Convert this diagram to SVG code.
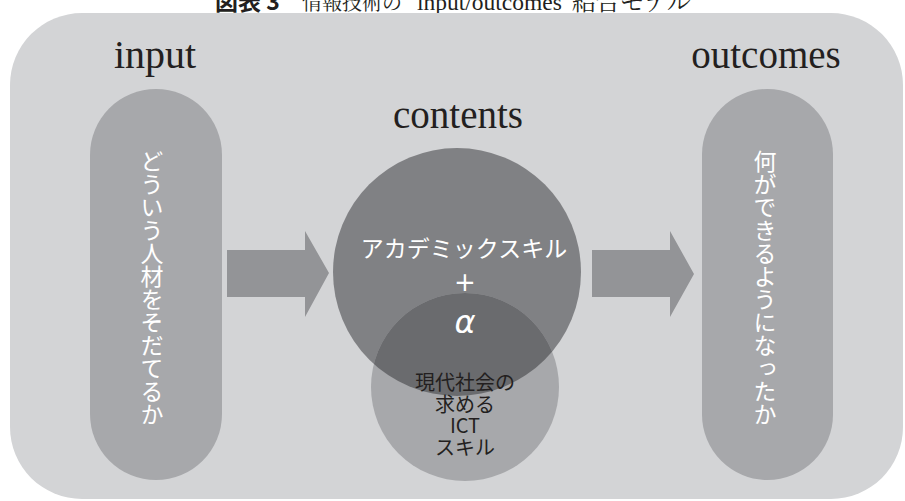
<svg xmlns="http://www.w3.org/2000/svg" width="905" height="501" viewBox="0 0 905 501">
  <style>
    .serif { font-family: "Liberation Serif", "Noto Serif CJK JP", serif; fill: #231f20; }
    .jp { font-family: "Noto Sans CJK JP", "Noto Sans", sans-serif; }
    .white { fill: #ffffff; }
    .dark { fill: #231f20; }
    .pill { fill: #a7a8ab; }
    .arrow { fill: #939497; }
    .vert { writing-mode: vertical-rl; font-size: 23px; fill: #ffffff; }
  </style>
  <defs>
    <clipPath id="bigClip"><circle cx="457" cy="272" r="124"/></clipPath>
  </defs>
  <rect width="905" height="501" fill="#ffffff"/>
  <g id="title">
    <text y="10" class="dark" font-family="Liberation Serif, Noto Serif CJK JP, Noto Sans CJK JP, serif"><tspan x="215" class="jp" font-size="23" font-weight="bold">図表 3</tspan><tspan x="302" font-size="20" font-family="Noto Serif CJK JP, Noto Sans CJK JP, serif">情報技術の</tspan><tspan x="417" font-size="23.5">input/outcomes</tspan><tspan x="572" font-size="24" font-family="Noto Serif CJK JP, Noto Sans CJK JP, serif">結合モデル</tspan></text>
  </g>
  <g id="background">
    <rect x="10" y="13" width="893" height="486" rx="72" ry="72" fill="#d3d4d6"/>
  </g>
  <g id="input">
    <text x="155" y="68" class="serif" font-size="40" text-anchor="middle">input</text>
    <rect x="90" y="89" width="132" height="391" rx="66" ry="66" class="pill"/>
    <text x="152" y="150" class="jp vert">どういう人材をそだてるか</text>
  </g>
  <g id="contents">
    <text x="458" y="128" class="serif" font-size="39" text-anchor="middle">contents</text>
    <circle cx="457" cy="272" r="124" fill="#808184"/>
    <circle cx="465" cy="387" r="94" fill="#a7a8ab"/>
    <circle cx="465" cy="387" r="94" fill="#6a6b6e" clip-path="url(#bigClip)"/>
    <text x="464" y="257" class="jp white" font-size="23" text-anchor="middle">アカデミックスキル</text>
    <text x="465" y="291" class="white" font-family="DejaVu Sans, sans-serif" font-size="26" text-anchor="middle">+</text>
    <text x="465" y="333" class="white" font-family="DejaVu Sans, sans-serif" font-style="italic" font-size="32" text-anchor="middle">α</text>
    <g class="jp dark" font-size="20" text-anchor="middle">
      <text x="465" y="390">現代社会の</text>
      <text x="465" y="412">求める</text>
      <text x="465" y="433">ICT</text>
      <text x="465" y="455">スキル</text>
    </g>
  </g>
  <g id="outcomes">
    <text x="766" y="68" class="serif" font-size="39" text-anchor="middle">outcomes</text>
    <rect x="702" y="89" width="131" height="391" rx="65.5" ry="65.5" class="pill"/>
    <text x="765" y="150" class="jp vert">何ができるようになったか</text>
  </g>
  <g id="connectors">
    <polygon class="arrow" points="227,250 305,250 305,231 329,273 305,317 305,297 227,297"/>
    <polygon class="arrow" points="592,250 670,250 670,231 694,274 670,317 670,297 592,297"/>
  </g>
</svg>
